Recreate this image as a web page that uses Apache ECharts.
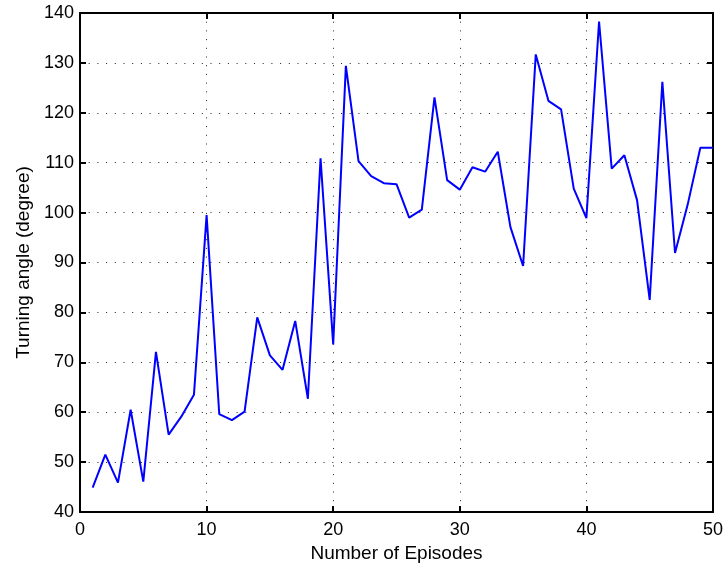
<!DOCTYPE html>
<html>
<head>
<meta charset="utf-8">
<script src="https://cdn.jsdelivr.net/npm/echarts@6/dist/echarts.min.js"></script>
<style>
html,body{margin:0;padding:0;background:#fff;}
#chart{width:728px;height:568px;}
</style>
</head>
<body>
<div id="chart"></div>
<script>
const episodes = [1,2,3,4,5,6,7,8,9,10,11,12,13,14,15,16,17,18,19,20,21,22,23,24,25,26,27,28,29,30,31,32,33,34,35,36,37,38,39,40,41,42,43,44,45,46,47,48,49,50];
const angles = [44.9,51.5,45.9,60.5,46.1,72.1,55.5,59.1,63.5,99.5,59.6,58.4,60.1,79.0,71.4,68.5,78.3,62.7,110.9,73.6,129.4,110.3,107.3,105.9,105.7,99.0,100.6,123.1,106.5,104.6,109.1,108.2,112.2,97.1,89.3,131.7,122.4,120.7,104.8,98.9,138.3,108.8,111.5,102.5,82.5,126.2,91.9,101.6,113.0,113.0];
const xTicks = [0,10,20,30,40,50];
const yTicks = [40,50,60,70,80,90,100,110,120,130,140];
const xTitle = 'Number of Episodes';
const yTitle = 'Turning angle (degree)';

const font = '"Liberation Sans", Arial, Helvetica, sans-serif';
const chart = echarts.init(document.getElementById('chart'));
const axisLine = {show:true, onZero:false, lineStyle:{color:'#000', width:2}};
const tick = {show:true, inside:true, length:6, lineStyle:{color:'#000', width:2}};
const grid = {show:true, lineStyle:{color:'#222', width:1, type:[1,7.7]}};
const label = {color:'#000', fontSize:18, fontFamily:font};
const xmin = xTicks[0], xmax = xTicks[xTicks.length-1];
const ymin = yTicks[0], ymax = yTicks[yTicks.length-1];
chart.setOption({
  animation:false,
  backgroundColor:'#fff',
  grid:{left:80, right:15, top:13, bottom:55, containLabel:false},
  xAxis:[
    {type:'value', min:xmin, max:xmax, interval:10, position:'bottom',
     axisLine:axisLine, axisTick:tick, splitLine:grid,
     axisLabel:Object.assign({margin:9}, label),
     name:xTitle, nameLocation:'middle', nameGap:32,
     nameTextStyle:{color:'#000', fontSize:19, fontFamily:font}},
    {type:'value', min:xmin, max:xmax, interval:10, position:'top',
     axisLine:axisLine, axisTick:tick, splitLine:{show:false}, axisLabel:{show:false}}
  ],
  yAxis:[
    {type:'value', min:ymin, max:ymax, interval:10, position:'left',
     axisLine:axisLine, axisTick:tick, splitLine:grid,
     axisLabel:Object.assign({margin:6}, label),
     name:yTitle, nameLocation:'middle', nameGap:46,
     nameTextStyle:{color:'#000', fontSize:19, fontFamily:font}},
    {type:'value', min:ymin, max:ymax, interval:10, position:'right',
     axisLine:axisLine, axisTick:tick, splitLine:{show:false}, axisLabel:{show:false}}
  ],
  series:[{
    type:'line',
    data:episodes.map((e,i)=>[e, angles[i]]),
    showSymbol:false,
    symbol:'none',
    lineStyle:{color:'#0000ff', width:2},
    xAxisIndex:0, yAxisIndex:0
  }]
});
</script>
</body>
</html>
